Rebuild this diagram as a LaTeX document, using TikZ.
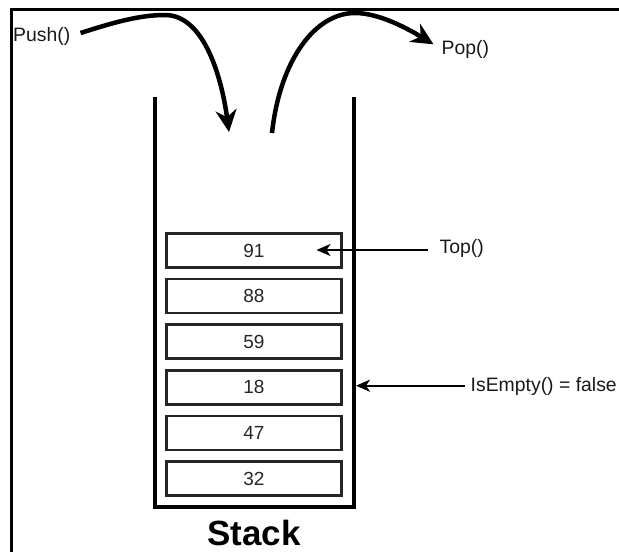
\documentclass[tikz,border=0pt]{standalone}
\usepackage{fontspec}
\setmainfont{Liberation Sans}
\usetikzlibrary{arrows.meta}
\begin{document}
\begin{tikzpicture}[x=1pt,y=-1pt,
  lbl/.style={font=\fontsize{19.4}{23}\selectfont, text=black!90, inner sep=0pt, anchor=base west},
  cell/.style={draw=black!85, line width=2.5pt, minimum width=175pt, minimum height=34pt, inner sep=0pt, font=\fontsize{19}{23}\selectfont, text=black!85},
  bigarrow/.style={line width=4.5pt, -{Stealth[length=22pt,width=21pt,inset=7pt]}},
  thinarrow/.style={line width=2pt, -{Stealth[length=14pt,width=12pt,inset=4pt]}},
  wall/.style={line width=4pt, line join=miter}]
\useasboundingbox (0,0) rectangle (619,552);
\clip (0,0) rectangle (619,552);
% frame
\draw[line width=3pt] (11,600) -- (11,9) -- (650,9);
% container
\draw[wall] (155,97) -- (155,507) -- (354,507) -- (354,97);
% cells
\node[cell] (c1) at (254,250.5) {91};
\node[cell] (c2) at (254,296.1) {88};
\node[cell] (c3) at (254,341.7) {59};
\node[cell] (c4) at (254,387.3) {18};
\node[cell] (c5) at (254,432.9) {47};
\node[cell] (c6) at (254,478.5) {32};
% title
\node[font=\fontsize{35}{40}\selectfont\bfseries, inner sep=0pt, anchor=base] (title) at (254,545) {Stack};
% labels
\node[lbl] (push) at (13,41.5) {Push()};
\node[lbl] (pop) at (441.5,54.3) {Pop()};
\node[lbl] (top) at (439.5,253.3) {Top()};
\node[lbl] (empty) at (470.5,391.7) {IsEmpty() = false};
% coordinates
\coordinate (pushtip) at (229,132);
\coordinate (popstart) at (272,133);
\coordinate (topstart) at (428,250);
\coordinate (toptip) at (316.5,250);
\coordinate (emptystart) at (465,385.7);
\coordinate (emptytip) at (356,385.7);
% arrows
\draw[bigarrow] ([xshift=10pt,yshift=8.5pt]push.base east) .. controls (115,22) and (140,15) .. (165,15)
   .. controls (205,15) and (222,80) .. (pushtip);
\draw[bigarrow] (popstart) .. controls (280,60) and (315,13) .. (355,13)
   .. controls (380,13) and (410,30) .. ([xshift=-8pt,yshift=10pt]pop.base west);
\draw[thinarrow] (topstart) -- (toptip);
\draw[thinarrow] (emptystart) -- (emptytip);
\end{tikzpicture}
\end{document}
